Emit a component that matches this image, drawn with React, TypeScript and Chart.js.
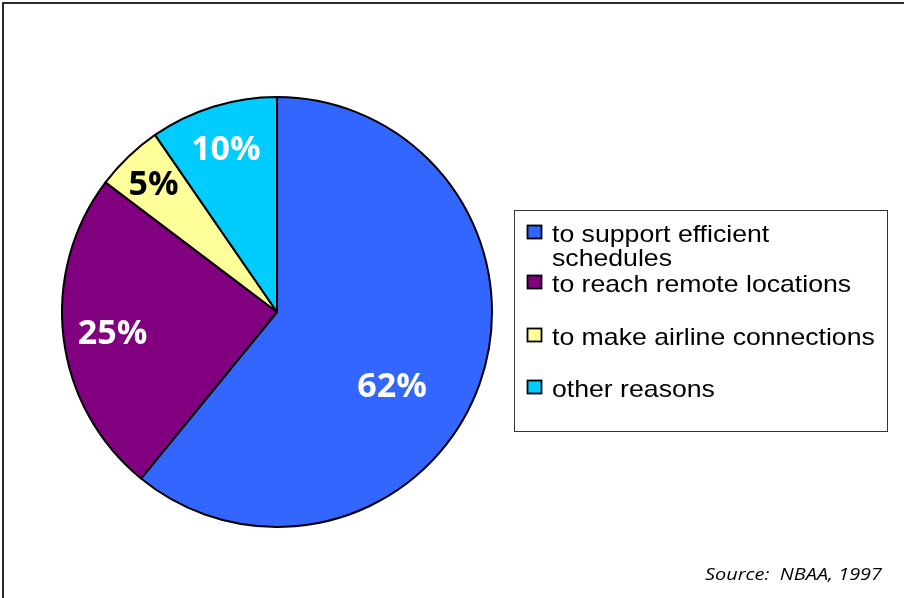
import React, { useEffect, useRef } from "react";
import { Chart, registerables } from "chart.js";

Chart.register(...registerables);

// ---- data ----
const categories = [
  "to support efficient schedules",
  "to reach remote locations",
  "to make airline connections",
  "other reasons",
];
const legendLines = [
  ["to support efficient", "schedules"],
  ["to reach remote locations"],
  ["to make airline connections"],
  ["other reasons"],
];
const shares = [60.9, 24.4, 5.1, 9.6];
const pctLabels = ["62%", "25%", "5%", "10%"];
const sliceColors = ["#3366FF", "#800080", "#FFFF99", "#00CCFF"];
const labelColors = ["#FFFFFF", "#FFFFFF", "#000000", "#FFFFFF"];
const sourceNote = "Source:  NBAA, 1997";

const decorPlugin = {
  id: "decor",
  beforeDraw(chart: any) {
    const ctx = chart.ctx;
    ctx.save();
    ctx.fillStyle = "#ffffff";
    ctx.fillRect(0, 0, chart.width, chart.height);
    ctx.fillStyle = "#2a2a2a";
    ctx.fillRect(2, 2, chart.width - 2, 2);
    ctx.fillRect(2, 2, 2, chart.height - 2);
    ctx.restore();
  },
  afterDatasetsDraw(chart: any) {
    const ctx = chart.ctx;
    const meta = chart.getDatasetMeta(0);
    const radial = [0.634, 0.77, 0.83, 0.8];
    const shift = [12.8, 0, 0, 0];
    ctx.save();
    meta.data.forEach((arc: any, i: number) => {
      const p = arc.getProps(["x", "y", "startAngle", "endAngle", "outerRadius"], true);
      const a = (p.startAngle + p.endAngle) / 2 + (shift[i] * Math.PI) / 180;
      const r = p.outerRadius * radial[i];
      const tx = p.x + Math.cos(a) * r;
      const ty = p.y + Math.sin(a) * r;
      const size = 34;
      ctx.font = `bold ${size}px 'Open Sans'`;
      ctx.fillStyle = labelColors[i];
      ctx.textAlign = "center";
      ctx.textBaseline = "alphabetic";
      ctx.fillText(pctLabels[i], tx, ty + size * 0.357);
    });

    // legend
    const bx = 514, by = 210, bw = 373, bh = 221;
    ctx.strokeStyle = "#333333";
    ctx.lineWidth = 1;
    ctx.strokeRect(bx + 0.5, by + 0.5, bw, bh);
    const colors = chart.data.datasets[0].backgroundColor;
    const slotY = [232, 282, 335, 387];
    chart.data.labels.forEach((_: string, i: number) => {
      const cy = slotY[i];
      ctx.fillStyle = colors[i];
      ctx.fillRect(527, cy - 7, 15, 14);
      ctx.strokeStyle = "#000000";
      ctx.lineWidth = 1.8;
      ctx.strokeRect(527.5, cy - 6.5, 14, 13);
      ctx.fillStyle = "#000000";
      ctx.font = "24px 'Liberation Sans'";
      ctx.textAlign = "left";
      ctx.textBaseline = "alphabetic";
      legendLines[i].forEach((line, j) => {
        ctx.save();
        ctx.translate(552, cy + 10 + 24 * j);
        ctx.scale(1.11, 1);
        ctx.fillText(line, 0, 0);
        ctx.restore();
      });
    });

    // source
    ctx.font = "italic 17px 'Open Sans'";
    ctx.fillStyle = "#000000";
    ctx.textAlign = "right";
    ctx.save();
    ctx.translate(882, 580);
    ctx.scale(1.17, 1);
    ctx.fillText(sourceNote, 0, 0);
    ctx.restore();
    ctx.restore();
  },
};

export default function App() {
  const ref = useRef<HTMLCanvasElement | null>(null);
  useEffect(() => {
    if (!ref.current) return;
    const chart = new Chart(ref.current, {
      type: "pie",
      data: {
        labels: categories,
        datasets: [
          {
            data: shares,
            backgroundColor: sliceColors,
            borderColor: "#000000",
            borderWidth: 2,
          },
        ],
      },
      options: {
        responsive: false,
        animation: false,
        events: [],
        layout: { padding: { left: 61, right: 411, top: 96, bottom: 70 } },
        plugins: {
          legend: { display: false },
          tooltip: { enabled: false },
        },
      },
      plugins: [decorPlugin],
    });
    return () => chart.destroy();
  }, []);
  return (
    <div style={{ position: "fixed", left: 0, top: 0, width: 904, height: 598, background: "#fff" }}>
      <canvas ref={ref} width={904} height={598} style={{ display: "block" }} />
    </div>
  );
}
